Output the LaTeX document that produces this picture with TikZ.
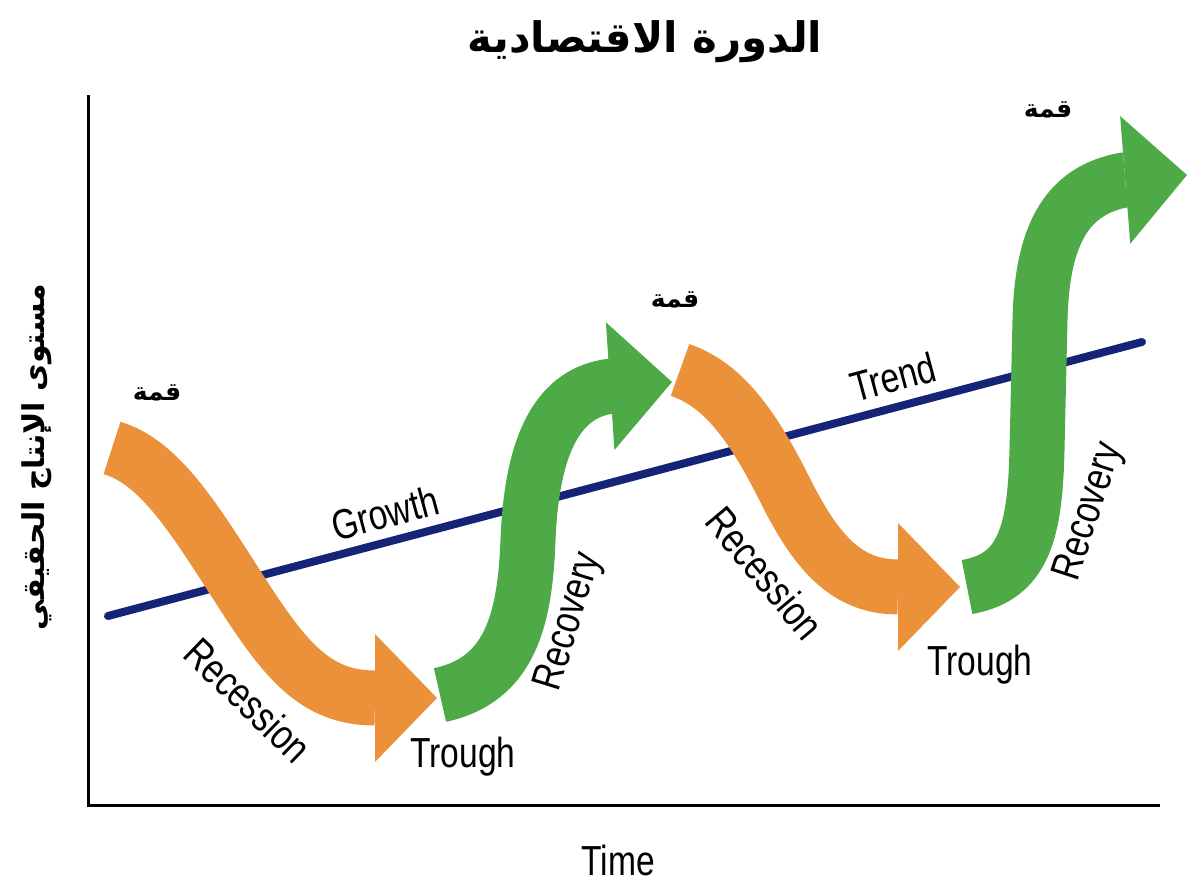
\documentclass[tikz,border=0pt]{standalone}
\usepackage{fontspec}
\setmainfont{Liberation Sans}
\newfontfamily\arabicfont[Script=Arabic]{DejaVu Sans}
\newfontfamily\condfont[FakeStretch=0.8]{Liberation Sans}
\TeXXeTstate=1
\usetikzlibrary{arrows.meta}

\definecolor{fallorange}{RGB}{235,145,58}
\definecolor{risegreen}{RGB}{77,170,70}
\definecolor{trendblue}{RGB}{22,36,120}

\begin{document}
\begin{tikzpicture}[x=0.5pt,y=-0.5pt,
		phase/.style={line width=27.5pt, -{Triangle[length=31pt,width=64pt,line width=0pt]}},
		fall/.style={phase, draw=fallorange},
		rise/.style={phase, draw=risegreen},
		tag/.style={font=\condfont\fontsize{21}{25}\selectfont, inner sep=0pt},
		peak/.style={font=\arabicfont\bfseries\fontsize{12.5}{15}\selectfont, inner sep=0pt}]
			\useasboundingbox (0,0) rectangle (1200,892);
			% title and axis labels
			\node (title) [font=\arabicfont\bfseries\fontsize{21}{25}\selectfont] at (645,42) {\beginR الدورة الاقتصادية\endR};
			\node (ylabel) [rotate=90, font=\arabicfont\bfseries\fontsize{15}{18}\selectfont] at (37,457) {\beginR مستوى الإنتاج الحقيقي\endR};
			\node (time) [tag] at (618,860) {Time};
			% axes
			\coordinate (ytop) at (88,95);
			\coordinate (origin) at (88,805);
			\coordinate (xend) at (1160,805);
			\draw [line width=1.5pt] (ytop) -- (origin) -- (xend);
			% trend line
			\coordinate (trendL) at (108,616);
			\coordinate (trendR) at (1142,342);
			\draw [trendblue, line width=4pt, line cap=round] (trendL) -- (trendR);
			% phases
			\coordinate (peakA) at (112,448);
			\coordinate (troughA) at (437,698);
			\coordinate (startA) at (440,695);
			\coordinate (peakB) at (672,382);
			\coordinate (fallB) at (680,370);
			\coordinate (troughB) at (960,587);
			\coordinate (startB) at (967,587);
			\coordinate (peakC) at (1187,175);
			\draw [fall] (peakA) .. controls (160,462) and (195,520) .. (240,590) .. controls (285,660) and (315,698) .. (375,698) -- (troughA);
			\draw [rise] (startA) .. controls (510,680) and (525,620) .. (528,540) .. controls (532,440) and (560,392) .. (612,386) -- (peakB);
			\draw [fall] (fallB) .. controls (725,385) and (755,430) .. (785,490) .. controls (815,550) and (845,587) .. (898,587) -- (troughB);
			\draw [rise] (startB) .. controls (1025,577) and (1035,530) .. (1037,450) -- (1040,320) .. controls (1042,230) and (1070,190) .. (1124,180) -- (peakC);
			% labels
			\node (growth) [tag, rotate=15] at (385,513) {Growth};
			\node (trend) [tag, rotate=15] at (893,377) {Trend};
			\node (recessA) [tag, rotate=-44] at (248,700) {Recession};
			\node (recessB) [tag, rotate=-50] at (765,573) {Recession};
			\node (troughTextA) [tag] at (463,757) {Trough};
			\node (troughTextB) [tag] at (980,665) {Trough};
			\node (recovA) [tag, rotate=73] at (570,622) {Recovery};
			\node (recovB) [tag, rotate=72] at (1090,512) {Recovery};
			\node (peakTextA) [peak] at (157,393) {\beginR قمة\endR};
			\node (peakTextB) [peak] at (675,300) {\beginR قمة\endR};
			\node (peakTextC) [peak] at (1048,110) {\beginR قمة\endR};
\end{tikzpicture}
\end{document}
